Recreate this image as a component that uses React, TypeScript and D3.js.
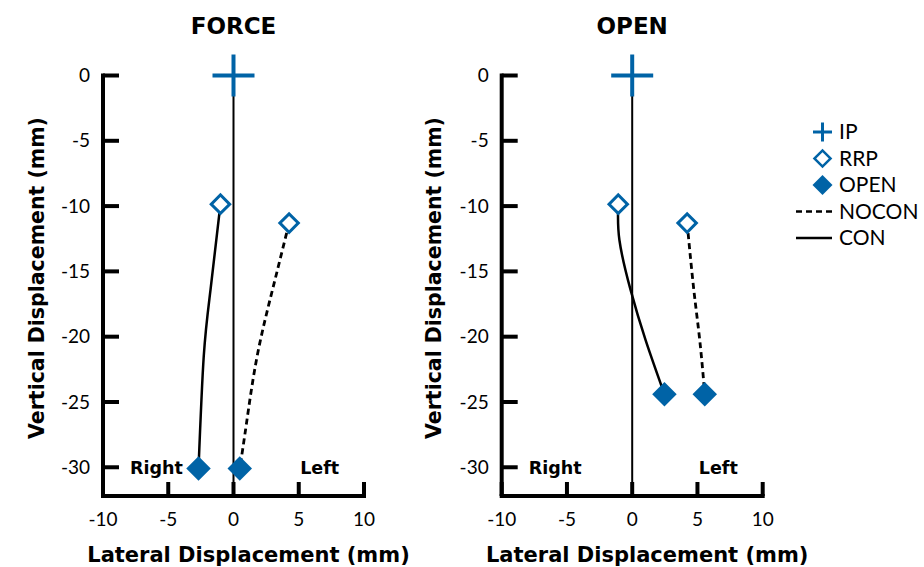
import React from 'react';
import * as d3 from 'd3';

// tick values
const xTicks = [-10, -5, 0, 5, 10];
const yTicks = [0, -5, -10, -15, -20, -25, -30];

const panelTitles = ['FORCE', 'OPEN'];

// IP, RRP and OPEN points (lateral, vertical) in mm
const ipPoint = [0, 0];
const forceRrp = [[-1.0, -9.85], [4.26, -11.3]];
const forceOpen = [[-2.68, -30.1], [0.48, -30.1]];
const openRrp = [[-1.07, -9.85], [4.21, -11.3]];
const openOpen = [[2.47, -24.4], [5.56, -24.4]];

// paths, RRP -> OPEN
const forceCon = [[-1.0, -9.85], [-1.76, -16.4], [-2.28, -21.5], [-2.68, -30.1]];
const forceNocon = [[4.26, -11.3], [2.99, -16.4], [1.81, -21.5], [1.0, -26.6], [0.48, -30.1]];
const openCon = [[-1.07, -9.85], [-0.98, -12.6], [-0.13, -16.4], [1.04, -20.3], [2.47, -24.4]];
const openNocon = [[4.21, -11.3], [4.72, -16.4], [5.18, -20.3], [5.56, -24.4]];

const legendItems = ['IP', 'RRP', 'OPEN', 'NOCON', 'CON'];

const blue = '#0063a6';
const font = 'Lato, "Open Sans", sans-serif';
const boldFont = '"DejaVu Sans", sans-serif';

const panelData = [
  { rrp: forceRrp, open: forceOpen, con: forceCon, nocon: forceNocon, ylab: 44 },
  { rrp: openRrp, open: openOpen, con: openCon, nocon: openNocon, ylab: 441 },
];

const y = d3.scaleLinear().domain([0, -32.2]).range([75.5, 496]);

const diamond = (size) => d3.symbol().type(d3.symbolSquare).size(size)();

const Panel = ({ index, left }) => {
  const x = d3.scaleLinear().domain([-10, 10]).range([left, left + 261]);
  const d = panelData[index];
  const line = d3.line().x(p => x(p[0])).y(p => y(p[1])).curve(d3.curveNatural);
  const yBottom = y.range()[1];

  return (
    <g>
      <text x={x(0)} y={34} textAnchor="middle" fontSize={23} fontWeight="bold" fontFamily={boldFont}>{panelTitles[index]}</text>

      {/* zero line */}
      <line x1={x(0)} x2={x(0)} y1={y(0)} y2={yBottom} stroke="#000" strokeWidth={2} />

      <path d={line(d.con)} fill="none" stroke="#000" strokeWidth={2.5} />
      <path d={line(d.nocon)} fill="none" stroke="#000" strokeWidth={2.8} strokeDasharray="6 4" />

      {d.rrp.map((p, i) => (
        <path key={'r' + i} d={diamond(170)} transform={`translate(${x(p[0])},${y(p[1])}) rotate(45)`}
          fill="#fff" stroke={blue} strokeWidth={3} />
      ))}
      {d.open.map((p, i) => (
        <path key={'o' + i} d={diamond(300)} transform={`translate(${x(p[0])},${y(p[1])}) rotate(45)`}
          fill={blue} />
      ))}

      {/* IP cross */}
      <g stroke={blue} strokeWidth={4}>
        <line x1={x(ipPoint[0]) - 21} x2={x(ipPoint[0]) + 21} y1={y(ipPoint[1])} y2={y(ipPoint[1])} />
        <line x1={x(ipPoint[0])} x2={x(ipPoint[0])} y1={y(ipPoint[1]) - 21} y2={y(ipPoint[1]) + 21} />
      </g>

      {/* axes */}
      <g stroke="#000" strokeWidth={4}>
        <line x1={x(-10)} x2={x(-10)} y1={y(0) - 2} y2={yBottom} />
        <line x1={x(-10) - 2} x2={x(10) + 2} y1={yBottom} y2={yBottom} />
        {yTicks.map(t => (
          <line key={'yt' + t} x1={x(-10)} x2={x(-10) + 16} y1={y(t)} y2={y(t)} />
        ))}
        {xTicks.map(t => (
          <line key={'xt' + t} x1={x(t)} x2={x(t)} y1={yBottom} y2={yBottom - 14} />
        ))}
      </g>
      {yTicks.map(t => (
        <text key={'yl' + t} x={x(-10) - 13} y={y(t)} dy="0.35em" textAnchor="end" fontSize={19}>{t}</text>
      ))}
      {xTicks.map(t => (
        <text key={'xl' + t} x={x(t)} y={526} textAnchor="middle" fontSize={19}>{t}</text>
      ))}

      <g fontFamily={boldFont} fontWeight="bold">
        <text x={x(-5.9)} y={y(-30)} dy="0.36em" textAnchor="middle" fontSize={17.5}>Right</text>
        <text x={x(6.6)} y={y(-30)} dy="0.36em" textAnchor="middle" fontSize={17.5}>Left</text>
        <text x={x(0) + 15} y={562} textAnchor="middle" fontSize={21}>Lateral Displacement (mm)</text>
        <text transform={`translate(${d.ylab},${278}) rotate(-90)`} textAnchor="middle" fontSize={20.5}>Vertical Displacement (mm)</text>
      </g>
    </g>
  );
};

const Legend = () => {
  const rowY = (i) => 132 + i * 26.5;
  return (
    <g>
      {legendItems.map((name, i) => (
        <text key={name} x={839} y={rowY(i)} dy="0.35em" fontSize={21}>{name}</text>
      ))}
      <g stroke={blue} strokeWidth={3}>
        <line x1={813} x2={832} y1={rowY(0)} y2={rowY(0)} />
        <line x1={822.5} x2={822.5} y1={rowY(0) - 9.5} y2={rowY(0) + 9.5} />
      </g>
      <path d={diamond(130)} transform={`translate(822.5,${rowY(1)}) rotate(45)`} fill="#fff" stroke={blue} strokeWidth={2.5} />
      <path d={diamond(200)} transform={`translate(822.5,${rowY(2)}) rotate(45)`} fill={blue} />
      <line x1={796} x2={832} y1={rowY(3)} y2={rowY(3)} stroke="#000" strokeWidth={2.5} strokeDasharray="6 4" />
      <line x1={796} x2={832} y1={rowY(4)} y2={rowY(4)} stroke="#000" strokeWidth={2.5} />
    </g>
  );
};

export default function App() {
  return (
    <svg width={924} height={567} fontFamily={font}
      style={{ position: 'absolute', left: 0, top: 0, background: '#fff' }}>
      <Panel index={0} left={103} />
      <Panel index={1} left={501.7} />
      <Legend />
    </svg>
  );
}
